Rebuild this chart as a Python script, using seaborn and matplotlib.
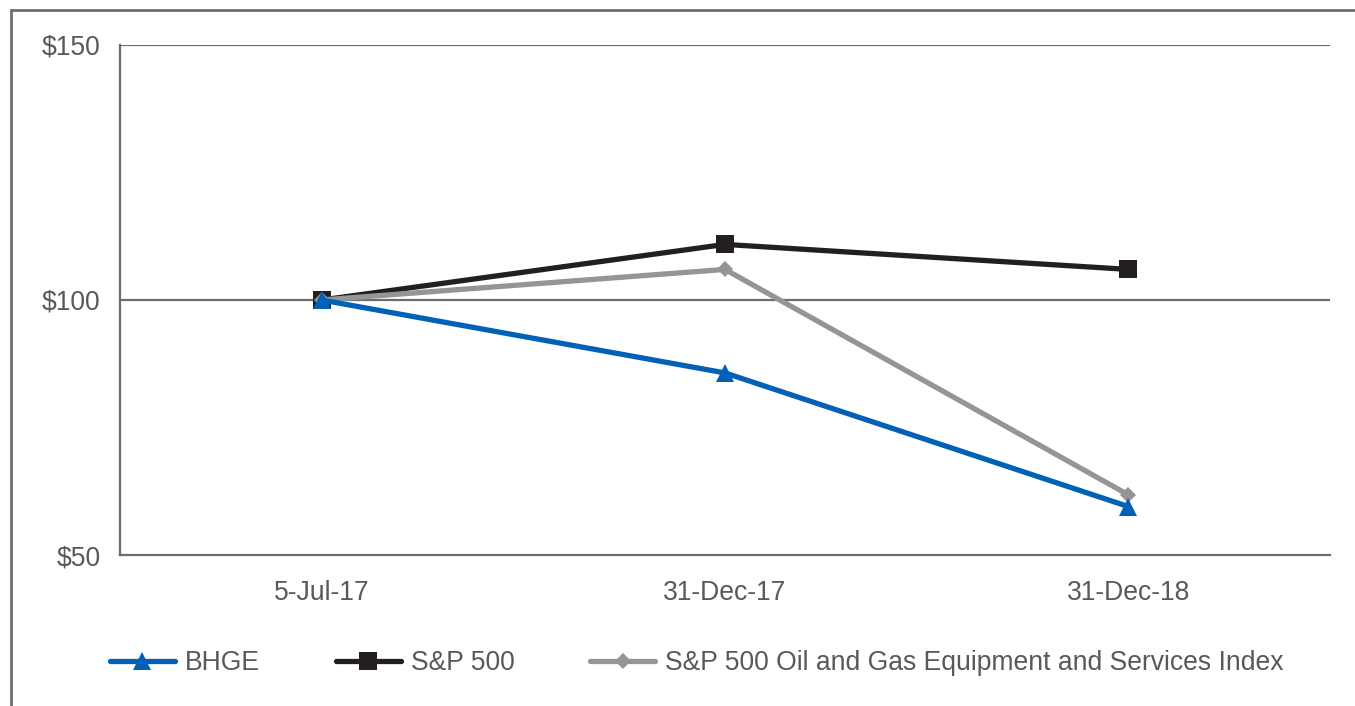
import matplotlib
matplotlib.use("Agg")
import matplotlib.pyplot as plt
import seaborn as sns
import pandas as pd
from matplotlib.patches import Rectangle

dates = ["5-Jul-17", "31-Dec-17", "31-Dec-18"]
bhge = [100.0, 85.7, 59.5]
sp500 = [100.0, 110.9, 106.0]
oilgas = [100.0, 106.0, 61.8]
yticks = [50, 100, 150]
ytick_labels = ["$50", "$100", "$150"]

series_names = ["BHGE", "S&P 500", "S&P 500 Oil and Gas Equipment and Services Index"]

sns.set_theme(style="white")
plt.rcParams['font.family'] = ['Liberation Sans', 'DejaVu Sans']

fig = plt.figure(figsize=(13.55, 7.06), dpi=100)
ax = fig.add_axes([120/1355, 1-555/706, 1210/1355, 510/706])

txt = "#595959"
grid = "#6d6d6d"
fs = 19.1

df = pd.DataFrame({
    "pos": list(range(len(dates))) * 3,
    "value": bhge + sp500 + oilgas,
    "series": [series_names[0]]*3 + [series_names[1]]*3 + [series_names[2]]*3,
})

styles = {
    series_names[1]: dict(color="#231f20", marker="s", ms=12.5, z=3),
    series_names[2]: dict(color="#939598", marker="D", ms=8, z=4),
    series_names[0]: dict(color="#0061b7", marker="^", ms=13, z=5),
}
order = [series_names[1], series_names[2], series_names[0]]
for name in order:
    st = styles[name]
    sub = df[df["series"] == name]
    sns.lineplot(data=sub, x="pos", y="value", ax=ax, color=st["color"], lw=3.8,
                 marker=st["marker"], markersize=st["ms"], markeredgewidth=0,
                 markeredgecolor=st["color"], zorder=st["z"], label=name, legend=False)
name_to_line = dict(zip(order, ax.get_lines()))

ax.set_xlim(-0.5, len(dates) - 0.5)
ax.set_ylim(50, 150)
ax.set_yticks(yticks)
ax.set_yticklabels(ytick_labels)
ax.set_xticks(range(len(dates)))
ax.set_xticklabels(dates)
ax.set_xlabel("")
ax.set_ylabel("")
ax.tick_params(axis="both", length=0, labelsize=fs, colors=txt)
ax.tick_params(axis="x", pad=18)
ax.tick_params(axis="y", pad=14)
for lab in ax.get_yticklabels():
    lab.set_verticalalignment("center_baseline")

ax.grid(False)
for y in [100, 150]:
    ax.axhline(y, color=grid, lw=1.6, zorder=1)
for s in ["top", "right"]:
    ax.spines[s].set_visible(False)
for s in ["left", "bottom"]:
    ax.spines[s].set_color(grid)
    ax.spines[s].set_linewidth(1.6)

# outer frame
fig.patches.append(Rectangle((11/1355, -0.1), 1.2, 1 - 10/706 + 0.1, transform=fig.transFigure,
                             fill=False, edgecolor="#6d6d6d", lw=2, zorder=0))

leg = fig.legend([name_to_line[n] for n in series_names], series_names,
                 loc="center left", bbox_to_anchor=(110/1355, 1 - 663/706),
                 ncol=3, frameon=False, fontsize=fs, handlelength=2.45,
                 handletextpad=0.38, columnspacing=2.85, borderaxespad=0, borderpad=0,
                 labelcolor=txt)

fig.savefig("out.png", dpi=100)
